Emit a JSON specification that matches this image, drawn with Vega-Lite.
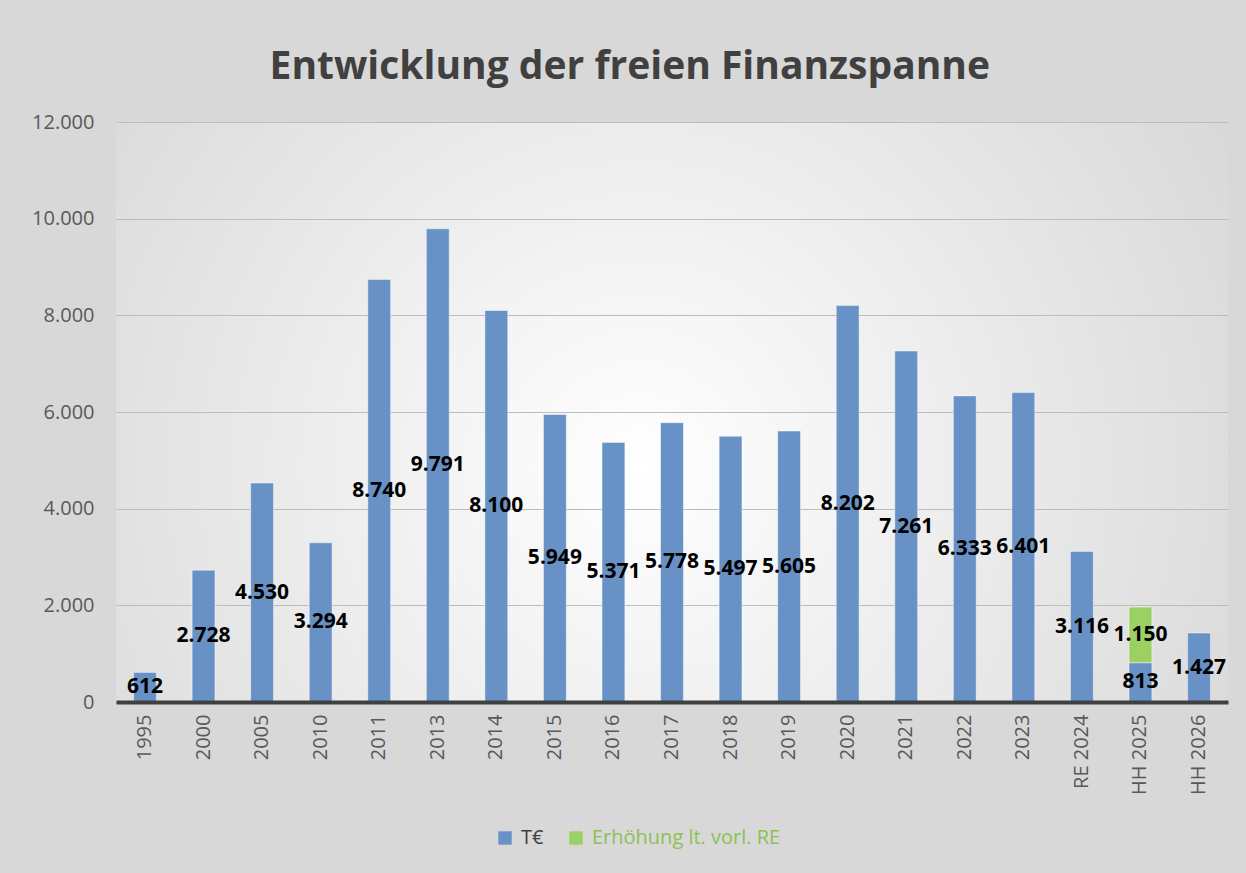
{
  "$schema": "https://vega.github.io/schema/vega-lite/v6.json",
  "width": 1112,
  "height": 580,
  "autosize": {"type": "none"},
  "padding": {"left": 116, "top": 122, "right": 18, "bottom": 171},
  "background": "#d8d8d8",
  "title": {
    "text": "Entwicklung der freien Finanzspanne",
    "font": "Open Sans",
    "fontSize": 39,
    "fontWeight": "bold",
    "color": "#404040",
    "anchor": "middle",
    "frame": "bounds",
    "offset": 25
  },
  "config": {
    "locale": {"number": {"decimal": ",", "thousands": ".", "grouping": [3], "currency": ["", " €"]}},
    "font": "Open Sans",
    "view": {
      "stroke": null,
      "fill": {
        "gradient": "radial",
        "x1": 0.47, "y1": 0.55, "r1": 0,
        "x2": 0.47, "y2": 0.55, "r2": 0.62,
        "stops": [
          {"offset": 0, "color": "#ffffff"},
          {"offset": 1, "color": "#d8d8d8"}
        ]
      }
    }
  },
  "data": {
    "values": [
      {"jahr": "1995", "series": "T€", "value": 612},
      {"jahr": "2000", "series": "T€", "value": 2728},
      {"jahr": "2005", "series": "T€", "value": 4530},
      {"jahr": "2010", "series": "T€", "value": 3294},
      {"jahr": "2011", "series": "T€", "value": 8740},
      {"jahr": "2013", "series": "T€", "value": 9791},
      {"jahr": "2014", "series": "T€", "value": 8100},
      {"jahr": "2015", "series": "T€", "value": 5949},
      {"jahr": "2016", "series": "T€", "value": 5371},
      {"jahr": "2017", "series": "T€", "value": 5778},
      {"jahr": "2018", "series": "T€", "value": 5497},
      {"jahr": "2019", "series": "T€", "value": 5605},
      {"jahr": "2020", "series": "T€", "value": 8202},
      {"jahr": "2021", "series": "T€", "value": 7261},
      {"jahr": "2022", "series": "T€", "value": 6333},
      {"jahr": "2023", "series": "T€", "value": 6401},
      {"jahr": "RE 2024", "series": "T€", "value": 3116},
      {"jahr": "HH 2025", "series": "T€", "value": 813},
      {"jahr": "HH 2025", "series": "Erhöhung lt. vorl. RE", "value": 1150},
      {"jahr": "HH 2026", "series": "T€", "value": 1427}
    ]
  },
  "encoding": {
    "x": {
      "field": "jahr",
      "type": "nominal",
      "sort": null,
      "scale": {"paddingInner": 0.61, "paddingOuter": 0.3},
      "axis": {
        "title": null,
        "labelAngle": -90,
        "labelFontSize": 20,
        "labelColor": "#595959",
        "labelFont": "Open Sans",
        "labelPadding": 12,
        "ticks": false,
        "domainColor": "#404040",
        "domainWidth": 4,
        "zindex": 1
      }
    }
  },
  "layer": [
    {
      "mark": {"type": "bar", "stroke": "#ffffff", "strokeOpacity": 0.45, "strokeWidth": 1},
      "encoding": {
        "y": {
          "field": "value",
          "type": "quantitative",
          "stack": "zero",
          "scale": {"domain": [0, 12000], "nice": false},
          "axis": {
            "title": null,
            "values": [0, 2000, 4000, 6000, 8000, 10000, 12000],
            "format": ",d",
            "labelFontSize": 20,
            "labelColor": "#595959",
            "labelFont": "Open Sans",
            "labelPadding": 22,
            "ticks": false,
            "domain": false,
            "gridColor": "#bcbcbc",
            "gridWidth": 1
          }
        },
        "color": {
          "field": "series",
          "type": "nominal",
          "scale": {"domain": ["T€", "Erhöhung lt. vorl. RE"], "range": ["#6891c6", "#9bd062"]},
          "legend": {
            "title": null,
            "orient": "none",
            "legendX": 379,
            "legendY": 706,
            "direction": "horizontal",
            "symbolType": "square",
            "symbolSize": 180,
            "symbolStrokeWidth": 0,
            "labelFontSize": 20,
            "labelFont": "Open Sans",
            "labelLimit": 0,
            "columnPadding": 22,
            "labelOffset": 6,
            "labelColor": {"expr": "datum.index === 0 ? '#404040' : '#8cc152'"}
          }
        },
        "order": {"field": "series", "sort": "descending"}
      }
    },
    {
      "mark": {"type": "text", "fontWeight": "bold", "fontSize": 21, "font": "Open Sans", "color": "#000000"},
      "encoding": {
        "y": {"field": "value", "type": "quantitative", "stack": "zero", "bandPosition": 0.5},
        "detail": {"field": "series"},
        "order": {"field": "series", "sort": "descending"},
        "text": {"field": "value", "type": "quantitative", "format": ",d"}
      }
    }
  ]
}
